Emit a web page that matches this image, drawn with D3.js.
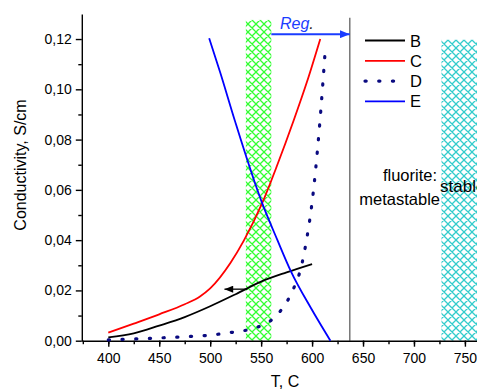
<!DOCTYPE html>
<html>
<head>
<meta charset="utf-8">
<script src="https://cdn.jsdelivr.net/npm/d3@7"></script>
<style>
  body { margin: 0; background: #fff; }
  svg { display: block; font-family: "Liberation Sans", Arial, sans-serif; }
  .axis path, .axis line { stroke: #000; stroke-width: 1.4; }
  .axis text { font-size: 14px; fill: #000; }
</style>
</head>
<body>
<div id="chart"></div>
<script>
// values
var bT = [400, 425, 450, 475, 500, 525, 550, 575, 600];
var bV = [0.0013, 0.0029, 0.0060, 0.0094, 0.0137, 0.0185, 0.0235, 0.0272, 0.0305];

var cT = [400, 425, 450, 475, 490, 500, 520, 533, 551, 565, 582, 595, 608];
var cV = [0.0032, 0.0068, 0.0105, 0.0145, 0.0176, 0.0208, 0.0310, 0.0398, 0.0547, 0.0690, 0.0877, 0.1030, 0.1200];

var dT = [400, 425, 450, 475, 500, 519, 532, 545, 557, 567, 575, 581, 590, 595, 600, 607, 613];
var dV = [0.0003, 0.0007, 0.0011, 0.0016, 0.0022, 0.0032, 0.0039, 0.0052, 0.0073, 0.0109, 0.0153, 0.0200, 0.0305, 0.0411, 0.0550, 0.0838, 0.1160];

var eT = [499, 510, 524, 551, 566, 579, 599, 618];
var eV = [0.1203, 0.1065, 0.0878, 0.0547, 0.0400, 0.0278, 0.0129, 0.0000];

var seriesNames = ["B", "C", "D", "E"];
var xTicks = [400, 450, 500, 550, 600, 650, 700, 750];
var yTicks = [0, 0.02, 0.04, 0.06, 0.08, 0.10, 0.12];

// regions: green band, cyan band, border line, reg arrow, back arrow
var greenBand = [535, 560, 0.1276];
var cyanBand = [727, 770, 0.1197];
var borderT = 637;
var regArrow = [560, 637, 0.1219];
var backArrow = [536.5, 514, 0.0205];

var W = 477, H = 390;

var x = d3.scaleLinear().domain([374, 765]).range([81.8, 480.2]);
var y = d3.scaleLinear().domain([0, 0.13]).range([340.7, 13.9]);

var svg = d3.select("#chart").append("svg")
  .attr("width", W).attr("height", H);

var defs = svg.append("defs");

// crosshatch patterns
function hatch(id, color) {
  var p = defs.append("pattern")
    .attr("id", id)
    .attr("patternUnits", "userSpaceOnUse")
    .attr("width", 8).attr("height", 8);
  p.append("path")
    .attr("d", "M0,0L8,8M8,0L0,8M-2,2L2,-2M6,10L10,6M-2,6L2,10M6,-2L10,2")
    .attr("stroke", color)
    .attr("stroke-width", 1.3)
    .attr("fill", "none");
}
hatch("hg", "#33ff33");
hatch("hc", "#33cccc");

defs.append("marker")
  .attr("id", "ahBlue")
  .attr("viewBox", "0 0 10 8")
  .attr("refX", 10).attr("refY", 4)
  .attr("markerWidth", 10).attr("markerHeight", 8)
  .attr("markerUnits", "userSpaceOnUse")
  .attr("orient", "auto")
  .append("path").attr("d", "M0,0L10,4L0,8Z").attr("fill", "#1a3cff");

defs.append("marker")
  .attr("id", "ahBlack")
  .attr("viewBox", "0 0 10 8")
  .attr("refX", 10).attr("refY", 4)
  .attr("markerWidth", 10).attr("markerHeight", 7)
  .attr("markerUnits", "userSpaceOnUse")
  .attr("orient", "auto")
  .append("path").attr("d", "M0,0L10,4L0,8Z").attr("fill", "#000");

// hatched bands
svg.append("rect")
  .attr("x", x(greenBand[0])).attr("width", x(greenBand[1]) - x(greenBand[0]))
  .attr("y", y(greenBand[2])).attr("height", y(0) - y(greenBand[2]))
  .attr("fill", "url(#hg)");

svg.append("rect")
  .attr("x", x(cyanBand[0])).attr("width", x(cyanBand[1]) - x(cyanBand[0]))
  .attr("y", y(cyanBand[2])).attr("height", y(0) - y(cyanBand[2]))
  .attr("fill", "url(#hc)");

// border line
svg.append("line")
  .attr("x1", x(borderT)).attr("x2", x(borderT))
  .attr("y1", y(0.1285)).attr("y2", y(0))
  .attr("stroke", "#777").attr("stroke-width", 1.5);

// axes
var fmt = function(d) { return d3.format(".2f")(d).replace(".", ","); };

svg.append("g").attr("class", "axis")
  .attr("transform", "translate(0," + y(0) + ")")
  .call(d3.axisBottom(x).tickValues(d3.range(375, 766, 25)).tickSize(3.5).tickFormat(""))
  .call(function(g) { g.select(".domain").remove(); });

svg.append("g").attr("class", "axis")
  .attr("transform", "translate(0," + y(0) + ")")
  .call(d3.axisBottom(x).tickValues(xTicks).tickSize(6).tickSizeOuter(0).tickPadding(6));

svg.append("g").attr("class", "axis")
  .attr("transform", "translate(" + x(374) + ",0)")
  .call(d3.axisLeft(y).tickValues(d3.range(0.01, 0.13, 0.02)).tickSize(3.5).tickFormat(""))
  .call(function(g) { g.select(".domain").remove(); });

svg.append("g").attr("class", "axis")
  .attr("transform", "translate(" + x(374) + ",0)")
  .call(d3.axisLeft(y).tickValues(yTicks).tickSize(6).tickSizeOuter(0).tickPadding(4).tickFormat(fmt));

// axis titles
svg.append("text")
  .attr("transform", "translate(26,165) rotate(-90)")
  .attr("text-anchor", "middle")
  .style("font-size", "16px")
  .text("Conductivity, S/cm");

svg.append("text")
  .attr("x", 285).attr("y", 387)
  .attr("text-anchor", "middle")
  .style("font-size", "16px")
  .text("T, C");

// curves
var line = d3.line()
  .x(function(d) { return x(d[0]); })
  .y(function(d) { return y(d[1]); })
  .curve(d3.curveMonotoneX);

function pairs(ts, vs) { return ts.map(function(t, i) { return [t, vs[i]]; }); }

var series = [
  { name: "B", pts: pairs(bT, bV), color: "#000", dash: null, w: 1.8 },
  { name: "C", pts: pairs(cT, cV), color: "#ff0000", dash: null, w: 1.8 },
  { name: "D", pts: pairs(dT, dV), color: "#0a0a80", dash: "1.2 12.5", w: 3.2 },
  { name: "E", pts: pairs(eT, eV), color: "#0000ff", dash: null, w: 1.8 }
];

svg.selectAll(".curve")
  .data(series)
  .enter().append("path")
  .attr("class", "curve")
  .attr("d", function(d) { return line(d.pts); })
  .attr("fill", "none")
  .attr("stroke", function(d) { return d.color; })
  .attr("stroke-width", function(d) { return d.w; })
  .attr("stroke-dasharray", function(d) { return d.dash; })
  .attr("stroke-linecap", function(d) { return d.dash ? "round" : "butt"; });

// arrows
svg.append("line")
  .attr("x1", x(regArrow[0])).attr("x2", x(regArrow[1]))
  .attr("y1", y(regArrow[2])).attr("y2", y(regArrow[2]))
  .attr("stroke", "#1a3cff").attr("stroke-width", 1.8)
  .attr("marker-end", "url(#ahBlue)");

var reg = svg.append("text")
  .attr("x", 280).attr("y", 28.5)
  .style("font-size", "16px")
  .style("font-style", "italic");
reg.append("tspan").attr("fill", "#1a3cff").text("Reg");
reg.append("tspan").attr("fill", "#222").text(".");

svg.append("line")
  .attr("x1", x(backArrow[0])).attr("x2", x(backArrow[1]))
  .attr("y1", y(backArrow[2])).attr("y2", y(backArrow[2]))
  .attr("stroke", "#000").attr("stroke-width", 1.3)
  .attr("marker-end", "url(#ahBlack)");

// legend
var leg = svg.selectAll(".leg")
  .data(series)
  .enter().append("g")
  .attr("class", "leg")
  .attr("transform", function(d, i) { return "translate(365," + (40.5 + i * 20.3) + ")"; });

leg.append("line")
  .attr("x1", 0).attr("x2", 40)
  .attr("stroke", function(d) { return d.color; })
  .attr("stroke-width", function(d) { return d.w; })
  .attr("stroke-dasharray", function(d) { return d.dash; })
  .attr("stroke-linecap", function(d) { return d.dash ? "round" : "butt"; });

leg.append("text")
  .attr("x", 45).attr("y", 6)
  .style("font-size", "16.5px")
  .text(function(d) { return d.name; });

// phase notes
svg.append("text")
  .attr("x", 437).attr("y", 181)
  .attr("text-anchor", "end")
  .style("font-size", "16.5px")
  .text("fluorite:");

svg.append("text")
  .attr("x", 440).attr("y", 205)
  .attr("text-anchor", "end")
  .style("font-size", "16.5px")
  .text("metastable");

svg.append("text")
  .attr("x", 440).attr("y", 192)
  .style("font-size", "17px")
  .text("stable");
</script>
</body>
</html>
